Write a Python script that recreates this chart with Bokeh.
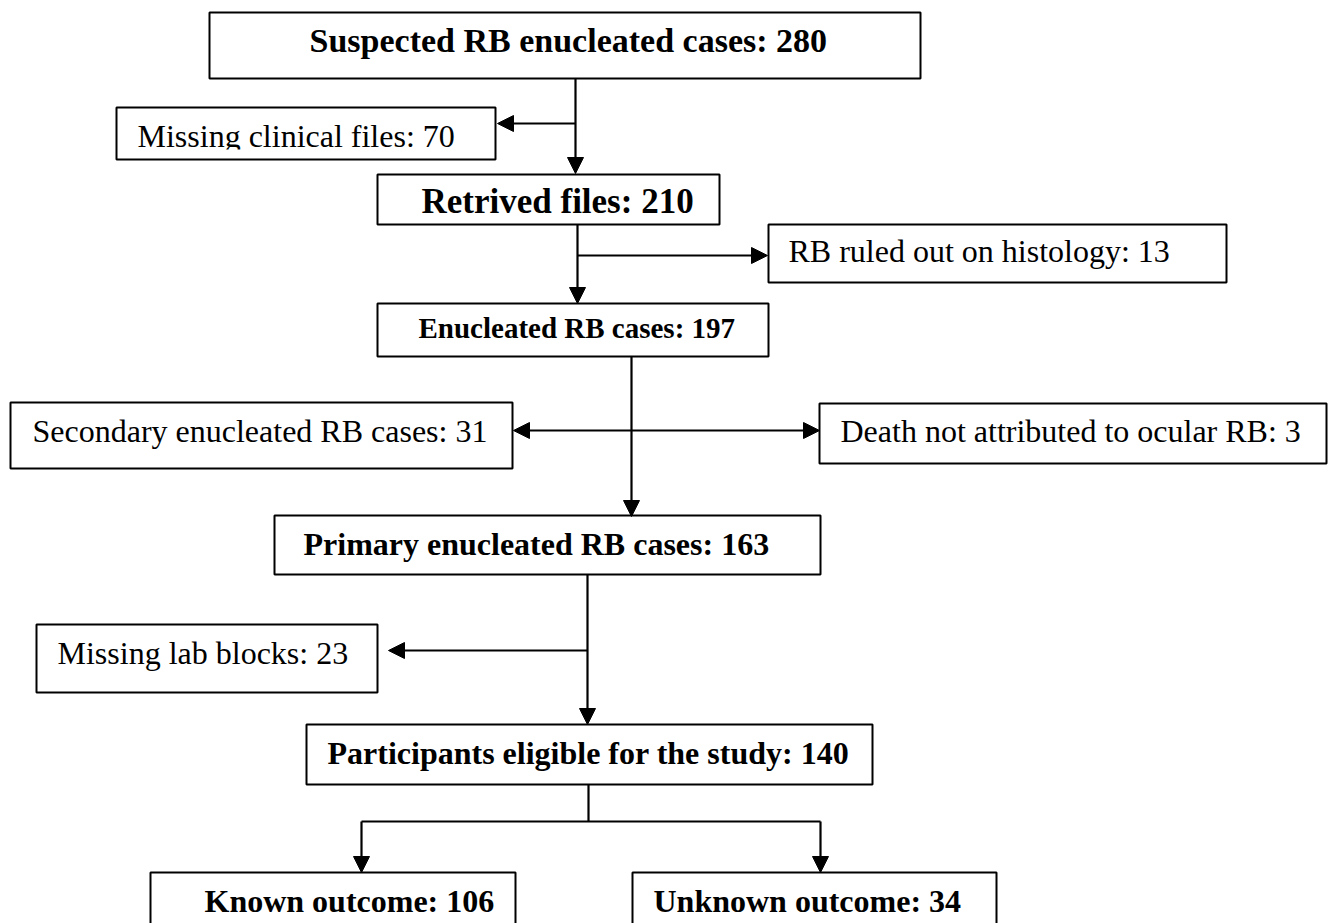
from bokeh.plotting import figure
from bokeh.models import Range1d, Arrow, NormalHead, ColumnDataSource
from bokeh.core.properties import value
from bokeh.embed import file_html
from bokeh.resources import INLINE

# ---- data ----
labels = ["Suspected RB enucleated cases", "Missing clinical files", "Retrived files",
          "RB ruled out on histology", "Enucleated RB cases", "Secondary enucleated RB cases",
          "Death not attributed to ocular RB", "Primary enucleated RB cases", "Missing lab blocks",
          "Participants eligible for the study", "Known outcome", "Unknown outcome"]
counts = [280, 70, 210, 13, 197, 31, 3, 163, 23, 140, 106, 34]
bold = [True, False, True, False, True, False, False, True, False, True, True, True]

# ---- layout (page pixels) ----
box_left = [209, 116, 377, 768, 377, 10, 819, 274, 36, 306, 150, 632]
box_right = [920, 495, 719, 1226, 768, 512, 1326, 820, 377, 872, 515, 996]
box_top = [12, 107, 174, 224, 303, 402, 403, 515, 624, 724, 872, 872]
box_bottom = [78, 159, 224, 282, 356, 468, 463, 574, 692, 784, 940, 940]
text_x = [309, 137, 421, 788, 418, 32, 840, 303, 57, 327, 204, 653]
text_y = [53, 148, 214, 263, 340, 443, 443, 556, 665, 765, 913, 913]
text_size = ["34px", "32px", "35px", "32px", "29px", "32px", "32px", "32px", "32px", "32px", "32px", "32px"]
BASE_SHIFT = 13  # renderer places alphabetic baseline lower than requested

# connector lines (x0, y0, x1, y1, head at end, head at start)
lines = [
    (575, 78, 575, 173, True, False),
    (575, 123, 497, 123, True, False),
    (577, 224, 577, 303, True, False),
    (577, 255, 767, 255, True, False),
    (631, 356, 631, 516, True, False),
    (513, 430, 819, 430, True, True),
    (587, 574, 587, 724, True, False),
    (587, 650, 388, 650, True, False),
    (588, 784, 588, 821, False, False),
    (361, 821, 820, 821, False, False),
    (361, 821, 361, 872, True, False),
    (820, 821, 820, 872, True, False),
]

W, H = 1331, 923
p = figure(width=W, height=H, x_range=Range1d(0, W), y_range=Range1d(H, 0),
           output_backend="svg", toolbar_location=None, x_axis_location=None,
           y_axis_location=None, min_border=0, outline_line_color=None,
           background_fill_color="white", border_fill_color="white")
p.grid.visible = False

p.quad(left=box_left, right=box_right, top=box_top, bottom=box_bottom,
       fill_color="white", line_color="black", line_width=2)

texts = [f"{l}: {c}" for l, c in zip(labels, counts)]
src = ColumnDataSource(dict(x=text_x, y=[v - BASE_SHIFT for v in text_y], t=texts, s=text_size,
                            st=["bold" if b else "normal" for b in bold]))
p.text(x="x", y="y", text="t", source=src, text_font=value("Liberation Serif"),
       text_font_size="s", text_font_style="st", text_baseline="alphabetic",
       text_align="left", text_color="black")

# clipped lower part of the "Missing clinical files" label
p.quad(left=[118], right=[493], top=[149], bottom=[157], fill_color="white", line_color=None)

def head():
    return NormalHead(size=16, fill_color="black", line_color="black", line_width=1)

for x0, y0, x1, y1, he, hs in lines:
    p.add_layout(Arrow(x_start=x0, y_start=y0, x_end=x1, y_end=y1, line_width=2.2,
                       line_color="black",
                       end=head() if he else None,
                       start=head() if hs else None))

open("out.html", "w").write(file_html(p, INLINE))
